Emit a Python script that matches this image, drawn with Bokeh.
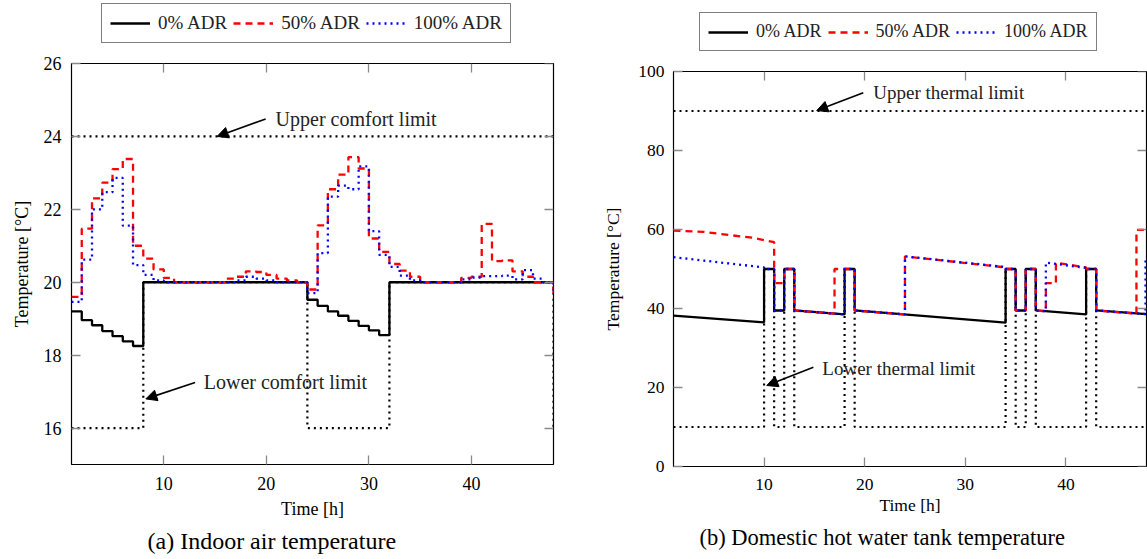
from bokeh.plotting import figure
from bokeh.layouts import row, column
from bokeh.models import (Range1d, LinearAxis, Legend, LegendItem, Arrow,
                          NormalHead, Label, Title, FixedTicker)
from bokeh.embed import file_html
from bokeh.resources import INLINE

FONT = "Liberation Serif"

# ---------------- (a) Indoor air temperature (hourly steps) ----------------
hours = [1, 2, 3, 4, 5, 6, 7, 8, 9, 10, 11, 12, 13, 14, 15, 16, 17, 18, 19, 20,
         21, 22, 23, 24, 25, 26, 27, 28, 29, 30, 31, 32, 33, 34, 35, 36, 37, 38,
         39, 40, 41, 42, 43, 44, 45, 46, 47, 48]
air_adr0 = [19.2, 18.96, 18.82, 18.66, 18.52, 18.38, 18.25, 20.0, 20.0, 20.0,
            20.0, 20.0, 20.0, 20.0, 20.0, 20.0, 20.0, 20.0, 20.0, 20.0,
            20.0, 20.0, 20.0, 19.52, 19.35, 19.2, 19.08, 18.94, 18.8, 18.68,
            18.55, 20.0, 20.0, 20.0, 20.0, 20.0, 20.0, 20.0, 20.0, 20.0,
            20.0, 20.0, 20.0, 20.0, 20.0, 20.0, 20.0, 20.0]
air_adr50 = [19.6, 21.47, 22.3, 22.73, 23.1, 23.38, 21.0, 20.65, 20.35, 20.12,
             20.0, 20.0, 20.0, 20.0, 20.0, 20.1, 20.15, 20.3, 20.28, 20.2,
             20.1, 20.05, 20.0, 19.8, 21.56, 22.55, 22.95, 23.43, 23.12, 21.2,
             20.83, 20.5, 20.32, 20.15, 20.0, 20.0, 20.0, 20.0, 20.12, 20.15,
             21.6, 20.58, 20.6, 20.3, 20.15, 20.0, 20.0, 19.7]
air_adr100 = [19.46, 20.62, 22.0, 22.47, 22.86, 21.55, 20.47, 20.2, 20.05, 20.0,
              20.0, 20.0, 20.0, 20.0, 20.0, 20.0, 20.05, 20.15, 20.1, 20.05,
              20.0, 20.0, 20.0, 19.7, 20.8, 22.35, 22.65, 22.55, 23.18, 21.4,
              20.75, 20.42, 20.18, 20.05, 20.0, 20.0, 20.0, 20.0, 20.08, 20.13,
              20.17, 20.17, 20.18, 20.08, 20.33, 20.1, 20.0, 19.7]
comfort_upper_t = [1, 48]
comfort_upper = [24, 24]
comfort_lower_t = [1, 8, 24, 32, 48]
comfort_lower = [16, 20, 16, 20, 16]

# ---------------- (b) Domestic hot water tank temperature ----------------
tank_adr0_t = [1, 10, 10, 11, 11, 12, 12, 13, 13, 18, 18, 19, 19, 34, 34, 35,
               35, 36, 36, 37, 37, 42, 42, 43, 43, 48]
tank_adr0 = [38.2, 36.5, 50, 50, 39.5, 39.5, 50, 50, 39.5, 38.5, 50, 50, 39.5,
             36.4, 50, 50, 39.5, 39.5, 50, 50, 39.5, 38.5, 50, 50, 39.5, 38.6]
tank_adr50_t = [1, 4, 6.5, 9, 10, 11, 11, 12, 12, 13, 13, 17, 17, 19, 19, 24,
                24, 34, 34, 35, 35, 36, 36, 37, 37, 38, 38, 39, 39, 42, 42, 43,
                43, 47, 47, 48]
tank_adr50 = [59.75, 59.4, 58.6, 57.9, 57.3, 56.8, 46.4, 46.4, 50, 50, 39.5,
              38.7, 50, 50, 39.5, 38.5, 53.2, 50.4, 50, 50, 39.5, 39.5, 50, 50,
              39.5, 39.3, 46.4, 46.4, 51.6, 50.4, 50, 50, 39.5, 38.7, 59.9, 59.9]
tank_adr100_t = [1, 10, 10, 11, 11, 12, 12, 13, 13, 18, 18, 19, 19, 24, 24, 34,
                 34, 35, 35, 36, 36, 37, 37, 38, 38, 42, 42, 43, 43, 47.9, 47.9]
tank_adr100 = [53.0, 50.4, 50, 50, 39.5, 39.5, 50, 50, 39.5, 38.5, 50, 50,
               39.5, 38.5, 53.2, 50.5, 50, 50, 39.5, 39.5, 50, 50, 39.5, 39.3,
               51.6, 50.3, 50, 50, 39.5, 38.6, 53.0]
thermal_upper_t = [1, 48]
thermal_upper = [90, 90]
thermal_lower_t = [1, 10, 10, 11, 11, 12, 12, 13, 13, 18, 18, 19, 19, 34, 34,
                   35, 35, 36, 36, 37, 37, 42, 42, 43, 43, 48]
thermal_lower = [10, 10, 50, 50, 10, 10, 50, 50, 10, 10, 50, 50, 10, 10, 50,
                 50, 10, 10, 50, 50, 10, 10, 50, 50, 10, 10]

x_ticks = [10, 20, 30, 40]
y_ticks_a = [16, 18, 20, 22, 24, 26]
y_ticks_b = [0, 20, 40, 60, 80, 100]
series_labels = ["0% ADR", "50% ADR", "100% ADR"]

TICK_COLOR = "#8a8a8a"
STYLES = [dict(line_color="black", line_width=2.3),
          dict(line_color="#ff0000", line_width=2.3, line_dash="7 5"),
          dict(line_color="#0000ff", line_width=2.3, line_dash="2 4")]


def style_main_axis(ax, fs, standoff, label, label_standoff):
    ax.major_tick_in = 9
    ax.major_tick_out = 0
    ax.major_tick_line_color = TICK_COLOR
    ax.major_tick_line_width = 1.3
    ax.minor_tick_line_color = None
    ax.axis_line_color = None
    ax.major_label_text_font = FONT
    ax.major_label_text_font_size = fs
    ax.major_label_text_color = "black"
    ax.major_label_standoff = standoff
    ax.axis_label = label
    ax.axis_label_text_font = FONT
    ax.axis_label_text_font_size = fs
    ax.axis_label_text_font_style = "normal"
    ax.axis_label_text_color = "black"
    ax.axis_label_standoff = label_standoff


def mirror_axis(p, ticks, side, loc):
    ax = LinearAxis(ticker=FixedTicker(ticks=ticks), fixed_location=loc)
    ax.major_tick_in = 9
    ax.major_tick_out = 0
    ax.major_tick_line_color = TICK_COLOR
    ax.major_tick_line_width = 1.3
    ax.minor_tick_line_color = None
    ax.axis_line_color = None
    ax.major_label_text_color = None
    p.add_layout(ax, side)


def base_fig(width, height, borders, yr, yticks, fs, lab_standoffs):
    p = figure(width=width, height=height, x_range=Range1d(1, 48),
               y_range=Range1d(*yr), output_backend="svg",
               toolbar_location=None,
               min_border_left=borders[0], min_border_right=borders[1],
               min_border_top=borders[2], min_border_bottom=borders[3])
    p.xgrid.visible = False
    p.ygrid.visible = False
    p.outline_line_color = "black"
    p.outline_line_width = 1.2
    p.outline_line_alpha = 1.0
    p.xaxis[0].ticker = FixedTicker(ticks=x_ticks)
    p.yaxis[0].ticker = FixedTicker(ticks=yticks)
    style_main_axis(p.xaxis[0], fs, lab_standoffs[0], "Time [h]", lab_standoffs[1])
    style_main_axis(p.yaxis[0], fs, lab_standoffs[2], "Temperature [°C]", lab_standoffs[3])
    mirror_axis(p, x_ticks, "above", yr[1])
    mirror_axis(p, yticks, "right", 48)
    return p


def add_series(p, step, data):
    rends = []
    for (xs, ys), st in zip(data, STYLES):
        if step:
            r = p.step(xs, ys, mode="after", **st)
        else:
            r = p.line(xs, ys, **st)
        rends.append(r)
    return rends


def legend_fig(width, height, data, loc, fs):
    """Strip above a chart holding only its legend (series kept out of view)."""
    p = figure(width=width, height=height, x_range=Range1d(-20, -10),
               y_range=Range1d(0, 1), output_backend="svg",
               toolbar_location=None, min_border=0)
    p.axis.visible = False
    p.xgrid.visible = False
    p.ygrid.visible = False
    p.outline_line_color = None
    rends = [p.line(xs, ys, **st) for (xs, ys), st in zip(data, STYLES)]
    leg = Legend(items=[LegendItem(label=l, renderers=[r])
                        for l, r in zip(series_labels, rends)],
                 orientation="horizontal", location=loc,
                 label_text_font=FONT, label_text_font_size=fs,
                 label_text_color="#222222",
                 glyph_width=40, glyph_height=20, label_height=20,
                 label_standoff=8, spacing=6, padding=8, margin=0,
                 border_line_color="black", border_line_width=1.2,
                 background_fill_color="white", background_fill_alpha=1.0)
    p.add_layout(leg)
    return p


def add_note(p, text, tx, ty, ax0, ay0, ax1, ay1, fs):
    p.add_layout(Arrow(end=NormalHead(size=11, fill_color="black",
                                      line_color="black", line_width=1),
                       x_start=ax0, y_start=ay0, x_end=ax1, y_end=ay1,
                       line_color="black", line_width=1.6))
    p.add_layout(Label(x=tx, y=ty, text=text, text_font=FONT,
                       text_font_size=fs, text_baseline="middle",
                       text_align="left", text_color="#222222"))


# ---------------- figure (a) ----------------
data_a = [(hours, air_adr0), (hours, air_adr50), (hours, air_adr100)]
la = legend_fig(600, 53, data_a, (30, 10), "19px")
pa = base_fig(600, 506, (71, 47, 10, 95), (15, 26), y_ticks_a, "18px",
              (12, 6, 10, 9))
pa.step(comfort_lower_t, comfort_lower, mode="after", line_color="black",
        line_width=2.2, line_dash="2 4")
pa.line(comfort_upper_t, comfort_upper, line_color="black", line_width=2.2,
        line_dash="2 4")
add_series(pa, True, data_a)
add_note(pa, "Upper comfort limit", 20.9, 24.49, 19.93, 24.48, 15.2, 24.0, "20px")
add_note(pa, "Lower comfort limit", 13.9, 17.26, 13.05, 17.25, 8.25, 16.8, "20px")
pa.add_layout(Title(text="(a) Indoor air temperature", align="left", offset=76,
                    standoff=9, text_font=FONT, text_font_size="24px",
                    text_font_style="normal", text_color="black"), "below")

# ---------------- figure (b) ----------------
data_b = [(tank_adr0_t, tank_adr0), (tank_adr50_t, tank_adr50),
          (tank_adr100_t, tank_adr100)]
lb = legend_fig(547, 61, data_b, (26, 10), "18px")
pb = base_fig(547, 498, (72, 1, 10, 93), (0, 100), y_ticks_b, "17.5px",
              (12, 2, 9, 12))
pb.line(thermal_lower_t, thermal_lower, line_color="black", line_width=2.2,
        line_dash="2 4")
pb.line(thermal_upper_t, thermal_upper, line_color="black", line_width=2.2,
        line_dash="2 4")
add_series(pb, False, data_b)
add_note(pb, "Upper thermal limit", 20.85, 94.6, 19.86, 94.6, 15.23, 90.1, "19px")
add_note(pb, "Lower thermal limit", 15.79, 24.9, 14.9, 25.1, 10.27, 20.5, "19px")
pb.add_layout(Title(text="(b) Domestic hot water tank temperature", align="left",
                    offset=26, standoff=11, text_font=FONT, text_font_size="22.5px",
                    text_font_style="normal", text_color="black"), "below")

layout = row(column(la, pa), column(lb, pb))
open("out.html", "w").write(file_html(layout, INLINE))
